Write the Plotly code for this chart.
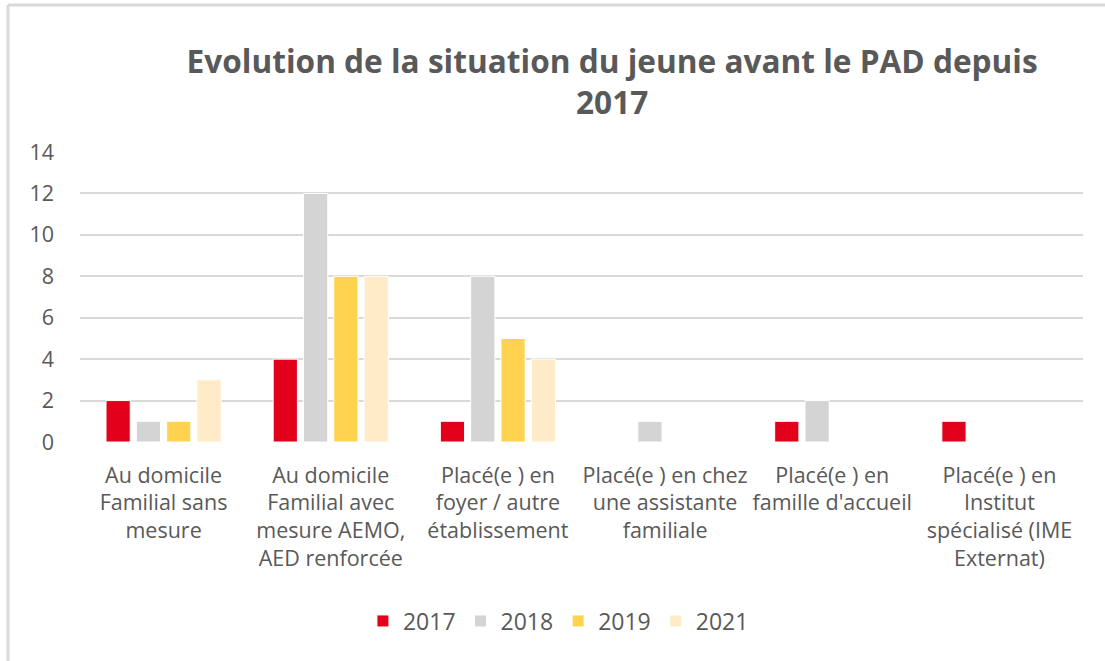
import plotly.graph_objects as go

categories = [
    "Au domicile<br>Familial sans<br>mesure",
    "Au domicile<br>Familial avec<br>mesure AEMO,<br>AED renforcée",
    "Placé(e ) en<br>foyer / autre<br>établissement",
    "Placé(e ) en chez<br>une assistante<br>familiale",
    "Placé(e ) en<br>famille d'accueil",
    "Placé(e ) en<br>Institut<br>spécialisé (IME<br>Externat)",
]
series_names = ["2017", "2018", "2019", "2021"]
values_2017 = [2, 4, 1, 0, 1, 1]
values_2018 = [1, 12, 8, 1, 2, 0]
values_2019 = [1, 8, 5, 0, 0, 0]
values_2021 = [3, 8, 4, 0, 0, 0]
colors = ["#E2001A", "#D3D4D3", "#FFD34F", "#FFEBC8"]
y_ticks = [0, 2, 4, 6, 8, 10, 12, 14]

W, H = 1105, 661
L, R, T, B = 80, 22, 152, 219

fig = go.Figure()
for name, vals, col in zip(series_names, [values_2017, values_2018, values_2019, values_2021], colors):
    fig.add_trace(go.Bar(
        name=name, x=list(range(len(categories))), y=vals,
        marker=dict(color=col, line=dict(color="white", width=1)),
    ))

pw = W - L - R
ph = H - T - B
def px_x(p):
    return (p - L) / pw
def px_y(p):
    return (H - B - p) / ph

shapes = [
    dict(type="line", xref="paper", yref="paper", x0=px_x(8), x1=px_x(8), y0=px_y(5), y1=px_y(H + 5),
         line=dict(color="#D9D9D9", width=3)),
    dict(type="line", xref="paper", yref="paper", x0=px_x(8), x1=px_x(W + 5), y0=px_y(5), y1=px_y(5),
         line=dict(color="#D9D9D9", width=3)),
]

fig.update_layout(
    width=W, height=H,
    margin=dict(l=L, r=R, t=T, b=B),
    paper_bgcolor="white", plot_bgcolor="white",
    barmode="group", bargap=0.275, bargroupgap=0.2,
    font=dict(family="Open Sans", color="#595959", size=22),
    title=dict(
        text="<b>Evolution de la situation du jeune avant le PAD depuis<br>2017</b>",
        x=0.554, xanchor="center", y=0.89, yanchor="top",
        font=dict(family="Open Sans", size=31.6, color="#595959"),
    ),
    xaxis=dict(
        tickmode="array", tickvals=list(range(len(categories))), ticktext=categories,
        range=[-0.5, len(categories) - 0.5], showgrid=False, showline=False,
        tickfont=dict(size=21.5, color="#595959"), ticks="", ticklabelstandoff=18,
    ),
    yaxis=dict(
        range=[0, 14], tickmode="array", tickvals=y_ticks, showgrid=True,
        gridcolor="#D9D9D9", gridwidth=2, zeroline=False, showline=False,
        tickfont=dict(size=21.5, color="#595959"), ticks="", ticklabelstandoff=25,
    ),
    legend=dict(
        orientation="h", x=0.477, xanchor="center", y=px_y(621), yanchor="middle",
        font=dict(size=23, color="#595959"), itemwidth=30, traceorder="normal",
    ),
    shapes=shapes,
)

fig.write_html(
    "out.html",
    config={"displayModeBar": False},
    post_script="document.body.style.margin='0';document.body.style.overflow='hidden';",
)
